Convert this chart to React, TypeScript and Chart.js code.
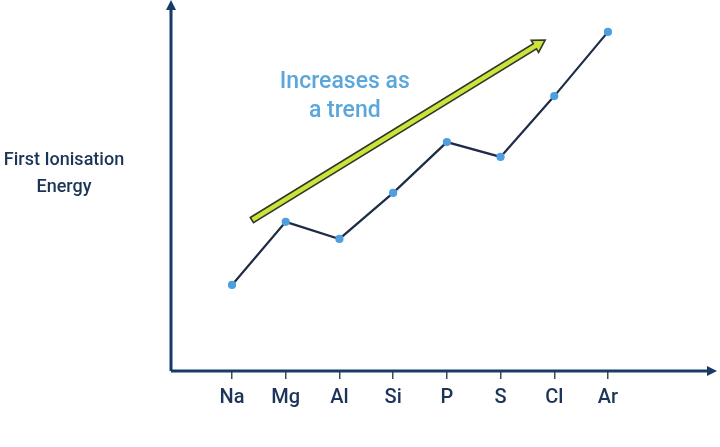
import React, { useEffect, useRef } from "react";
import { Chart, registerables } from "chart.js";

Chart.register(...registerables);

const elements = ["Na", "Mg", "Al", "Si", "P", "S", "Cl", "Ar"];
const energies = [23.2, 40.2, 35.6, 48.0, 61.7, 57.7, 74.1, 91.4];
const trendArrowX = [0.37, 5.83];
const trendArrowY = [40.7, 89.2];
const trendText = ["Increases as", "a trend"];
const trendTextX = 2.1;
const trendTextY = [77.9, 70.0];
const yTitle = ["First Ionisation", "Energy"];

const AXIS_COLOR = "#173b66";
const TEXT_COLOR = "#1b3458";
const FONT = "Roboto, 'Noto Sans', sans-serif";

const decorPlugin = {
  id: "decor",
  beforeDatasetsDraw(chart: any) {
    const { ctx, chartArea, scales } = chart;
    const xs = scales.x;
    const ys = scales.y;
    ctx.save();
    // axes
    ctx.strokeStyle = AXIS_COLOR;
    ctx.fillStyle = AXIS_COLOR;
    ctx.lineWidth = 3;
    ctx.beginPath();
    ctx.moveTo(chartArea.left, chartArea.bottom);
    ctx.lineTo(chartArea.left, chartArea.top + 6);
    ctx.moveTo(chartArea.left, chartArea.bottom);
    ctx.lineTo(chartArea.right - 6, chartArea.bottom);
    ctx.stroke();
    // arrow heads
    ctx.beginPath();
    ctx.moveTo(chartArea.left, chartArea.top);
    ctx.lineTo(chartArea.left - 5, chartArea.top + 10);
    ctx.lineTo(chartArea.left + 5, chartArea.top + 10);
    ctx.closePath();
    ctx.fill();
    ctx.beginPath();
    ctx.moveTo(chartArea.right, chartArea.bottom);
    ctx.lineTo(chartArea.right - 10, chartArea.bottom - 5);
    ctx.lineTo(chartArea.right - 10, chartArea.bottom + 5);
    ctx.closePath();
    ctx.fill();

    // trend arrow
    const x1 = xs.getPixelForValue(trendArrowX[0]);
    const y1 = ys.getPixelForValue(trendArrowY[0]);
    const x2 = xs.getPixelForValue(trendArrowX[1]);
    const y2 = ys.getPixelForValue(trendArrowY[1]);
    const ang = Math.atan2(y2 - y1, x2 - x1);
    const len = Math.hypot(x2 - x1, y2 - y1);
    ctx.translate(x1, y1);
    ctx.rotate(ang);
    const hw = 3;
    const headL = 12;
    const headW = 7;
    ctx.beginPath();
    ctx.moveTo(0, -hw);
    ctx.lineTo(len - headL, -hw);
    ctx.lineTo(len - headL, -headW);
    ctx.lineTo(len, 0);
    ctx.lineTo(len - headL, headW);
    ctx.lineTo(len - headL, hw);
    ctx.lineTo(0, hw);
    ctx.closePath();
    ctx.fillStyle = "#cde33a";
    ctx.fill();
    ctx.lineWidth = 1.6;
    ctx.strokeStyle = "#2c3a2a";
    ctx.stroke();
    ctx.setTransform(1, 0, 0, 1, 0, 0);

    // trend text
    ctx.fillStyle = "#5aa6dd";
    ctx.font = `500 23px ${FONT}`;
    ctx.textAlign = "center";
    ctx.textBaseline = "middle";
    const tx = xs.getPixelForValue(trendTextX);
    trendText.forEach((t, i) => {
      ctx.fillText(t, tx, ys.getPixelForValue(trendTextY[i]));
    });

    // y title
    ctx.fillStyle = TEXT_COLOR;
    ctx.font = `500 18px ${FONT}`;
    yTitle.forEach((t, i) => {
      ctx.fillText(t, chartArea.left - 107, 160 + i * 27);
    });
    ctx.restore();
  },
};

export default function App() {
  const ref = useRef<HTMLCanvasElement | null>(null);
  useEffect(() => {
    document.body.style.margin = "0";
    const canvas = ref.current;
    if (!canvas) return;
    const chart = new Chart(canvas, {
      type: "line",
      data: {
        datasets: [
          {
            data: energies.map((v, i) => ({ x: i, y: v })),
            borderColor: "#1e2c47",
            borderWidth: 2.2,
            pointBackgroundColor: "#4f9fe0",
            pointBorderColor: "#4f9fe0",
            pointRadius: 3,
            tension: 0,
          },
        ],
      },
      options: {
        animation: false,
        responsive: false,
        maintainAspectRatio: false,
        layout: {
          autoPadding: false,
          padding: { left: 171, right: 3, top: 0, bottom: 0 },
        },
        plugins: { legend: { display: false }, tooltip: { enabled: false } },
        scales: {
          x: {
            type: "linear",
            min: -1.136,
            max: 9.03,
            afterBuildTicks: (scale: any) => {
              scale.ticks = elements.map((_, i) => ({ value: i }));
            },
            afterFit: (scale: any) => {
              scale.height = 76;
            },
            border: { display: false },
            grid: {
              drawOnChartArea: false,
              drawTicks: true,
              tickLength: 8,
              color: "#3d4a5c",
              lineWidth: 1.5,
            },
            ticks: {
              autoSkip: false,
              maxRotation: 0,
              padding: 7,
              color: TEXT_COLOR,
              font: { family: FONT, size: 20, weight: 500 as any },
              callback: (v: any) => elements[Math.round(Number(v))] ?? "",
            },
          },
          y: {
            display: false,
            min: 0,
            max: 100,
          },
        },
      },
      plugins: [decorPlugin],
    });
    return () => chart.destroy();
  }, []);
  return (
    <div style={{ width: 720, height: 447 }}>
      <canvas ref={ref} width={720} height={447} style={{ display: "block" }} />
    </div>
  );
}
